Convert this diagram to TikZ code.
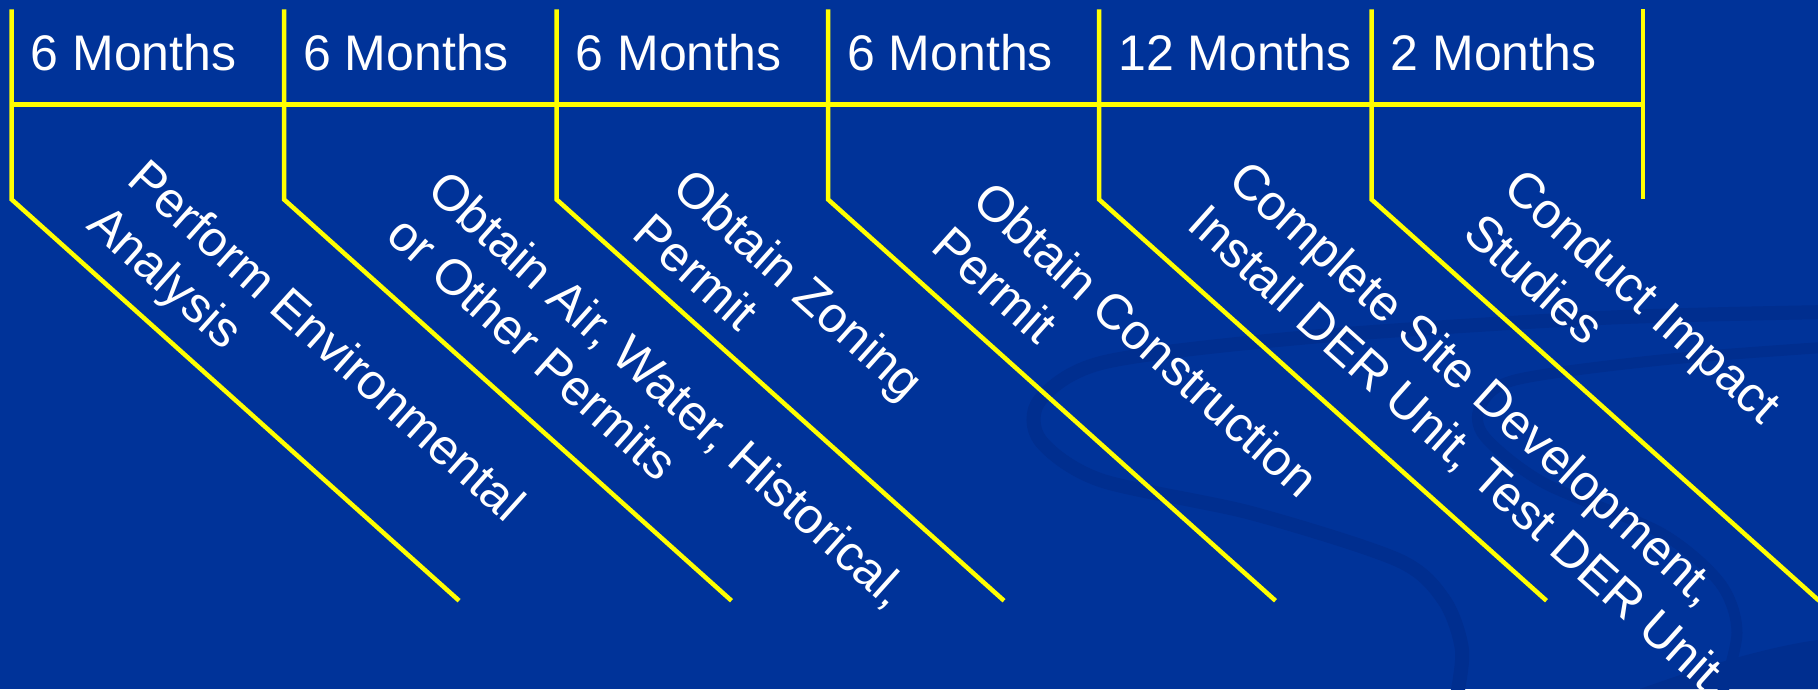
\documentclass[tikz,border=0pt]{standalone}
\usepackage{fontspec}
\setmainfont{Liberation Sans}
\usetikzlibrary{calc}
\definecolor{bg}{RGB}{0,51,153}
\definecolor{swoosh}{RGB}{0,46,143}
\definecolor{yel}{RGB}{255,255,0}
\begin{document}
\begin{tikzpicture}[x=1pt,y=-1pt,
  bar/.style={draw=yel,line width=4.5pt},
  band/.style={draw=swoosh,line width=14pt},
  month/.style={text=white,font=\fontsize{50}{60}\selectfont,anchor=base west,inner sep=0pt},
  task/.style={text=white,font=\fontsize{50}{60}\selectfont,anchor=base west,inner sep=0pt,rotate=-41.9}]
\fill[bg] (0,0) rectangle (1818,689);
\useasboundingbox (0,0) rectangle (1818,689);
% background swoosh
\draw[band] plot[smooth] coordinates {(1830,312) (1600,318) (1310,337) (1105,362) (1040,400) (1040,440) (1100,480) (1251,513) (1398,560) (1444,600) (1462,650) (1456,700)};
\draw[band,line width=11pt] plot[smooth] coordinates {(1830,347) (1661,360) (1515,380) (1480,407) (1485,437) (1544,483) (1661,533) (1720,583) (1737,633) (1720,700)};
\fill[swoosh] (1640,689) .. controls (1720,660) and (1780,645) .. (1818,640) -- (1818,689) -- cycle;
% grid points
\foreach \i/\x in {1/11.6,2/284,3/556.5,4/828,5/1099,6/1371.5,7/1643}{
  \coordinate (T\i) at (\x,9.3);
  \coordinate (H\i) at (\x,104.3);
  \coordinate (D\i) at (\x,199.4);
}
\foreach \i in {1,...,6}{
  \coordinate (E\i) at ($(D\i)+(447.5,401.3)$);
}
% yellow frame
\draw[bar] (H1) -- (H7);
\foreach \i in {1,...,6}{
  \draw[bar] (T\i) -- (D\i) -- (E\i);
}
\draw[bar] (T7) -- (D7);
% durations
\node[month] (m1) at ($(T1)+(19,61)$) {6 Months};
\node[month] (m2) at ($(T2)+(19,61)$) {6 Months};
\node[month] (m3) at ($(T3)+(19,61)$) {6 Months};
\node[month] (m4) at ($(T4)+(19,61)$) {6 Months};
\node[month] (m5) at ($(T5)+(19,61)$) {12 Months};
\node[month] (m6) at ($(T6)+(19,61)$) {2 Months};
% tasks (text frame: first coordinate along the slant, second downward)
\begin{scope}[shift={(D1)},rotate=-41.9]
  \node[task] (a1) at (73,-88.5) {Perform Environmental};
  \node[task] (b1) at (73,-28.5) {Analysis};
\end{scope}
\begin{scope}[shift={(D2)},rotate=-41.9]
  \node[task] (a2) at (101,-98.4) {Obtain Air, Water, Historical,};
  \node[task] (b2) at (101,-38.4) {or Other Permits};
\end{scope}
\begin{scope}[shift={(D3)},rotate=-41.9]
  \node[task] (a3) at (80,-82) {Obtain Zoning};
  \node[task] (b3) at (80,-22) {Permit};
\end{scope}
\begin{scope}[shift={(D4)},rotate=-41.9]
  \node[task] (a4) at (109,-91) {Obtain Construction};
  \node[task] (b4) at (109,-31) {Permit};
\end{scope}
\begin{scope}[shift={(D5)},rotate=-41.9]
  \node[task] (a5) at (83.4,-97) {Complete Site Development,};
  \node[task] (b5) at (83.4,-37) {Install DER Unit, Test DER Unit};
\end{scope}
\begin{scope}[shift={(D6)},rotate=-41.9]
  \node[task] (a6) at (91,-92.4) {Conduct Impact};
  \node[task] (b6) at (91,-32.4) {Studies};
\end{scope}
\end{tikzpicture}
\end{document}
